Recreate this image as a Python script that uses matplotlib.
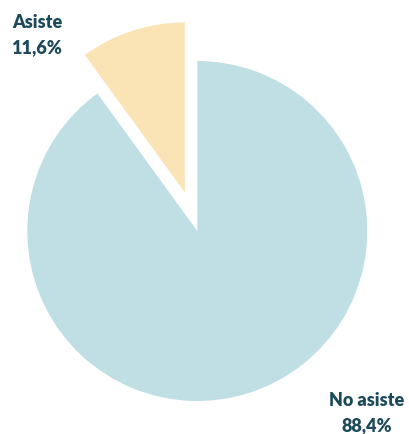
import matplotlib.pyplot as plt

labels = ["Asiste", "No asiste"]
pct_text = ["11,6%", "88,4%"]
# slice sizes as drawn in the reference (the yellow wedge spans ~36 degrees)
values = [10, 90]
colors = ["#fae4b6", "#c0dfe5"]

W, H = 409, 434
fig = plt.figure(figsize=(W / 100, H / 100), dpi=100)
ax = fig.add_axes([0, 0, 1, 1])
ax.axis("off")

# explode is in data units here (pixels), not a fraction of the radius
ax.pie(values, colors=colors, startangle=90, counterclock=True,
       explode=[40.5, 0], radius=170, center=(197.3, H - 231),
       wedgeprops=dict(linewidth=0))
ax.set_xlim(0, W)
ax.set_ylim(0, H)
ax.set_aspect("auto")

txt = "#1c4a5a"
font = dict(family="Lato", fontweight="heavy", fontsize=13, color=txt, ha="center", va="center")
ax.text(37, H - 22, labels[0], **font)
ax.text(37, H - 48, pct_text[0], **font)
ax.text(367, H - 400, labels[1], **font)
ax.text(367, H - 426, pct_text[1], **font)

fig.savefig("out.png", dpi=100)
